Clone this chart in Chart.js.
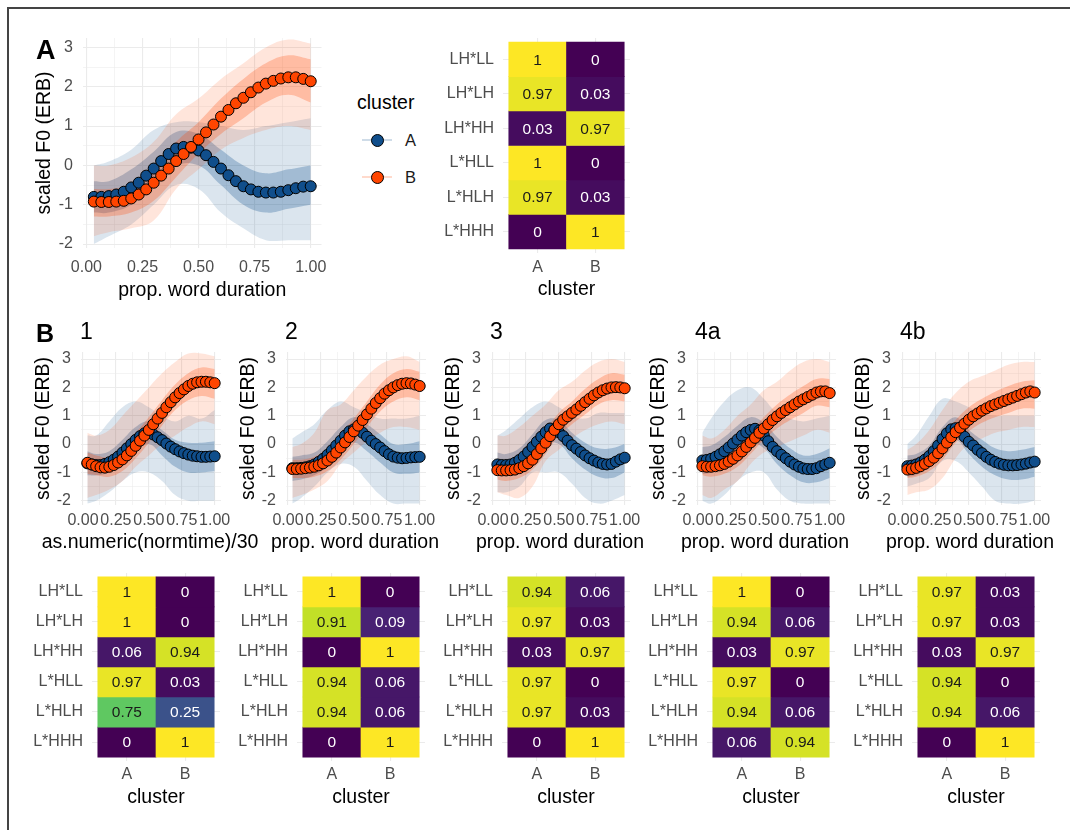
<!DOCTYPE html>
<html lang="en">
<head>
<meta charset="UTF-8">
<title>F0 contours by cluster</title>
<script src="https://cdn.jsdelivr.net/npm/chart.js"></script>
<style>
  body { margin: 0; background: #fff; font-family: "Liberation Sans", Arial, sans-serif; }
  #fig { position: relative; width: 1070px; height: 830px; overflow: hidden; background: #fff; }
  #frame { position: absolute; left: 7px; top: 7px; width: 1100px; height: 900px;
           border-top: 2px solid #444; border-left: 2px solid #444; }
  canvas { position: absolute; }
  .lbl { position: absolute; line-height: 1; white-space: nowrap; color: #000; z-index: 2; }
  .xt { position: absolute; line-height: 1; white-space: nowrap; color: #000; z-index: 2;
        font-size: 19.5px; transform: translateX(-50%); top: 532px; }
  .key-line { position: absolute; height: 2px; width: 30px; z-index: 2; }
  .key-dot { position: absolute; width: 11px; height: 11px; border: 1px solid #000; border-radius: 50%; z-index: 3; }
</style>
</head>
<body>
<div id="fig">
  <div id="frame"></div>

  <!-- panel letters and titles -->
  <div class="lbl" style="left:36px; top:37px; font-size:27px; font-weight:bold;">A</div>
  <div class="lbl" style="left:36px; top:321px; font-size:25px; font-weight:bold;">B</div>
  <div class="lbl" style="left:80px; top:320px; font-size:23px;">1</div>
  <div class="lbl" style="left:285px; top:320px; font-size:23px;">2</div>
  <div class="lbl" style="left:490px; top:320px; font-size:23px;">3</div>
  <div class="lbl" style="left:695px; top:320px; font-size:23px;">4a</div>
  <div class="lbl" style="left:900px; top:320px; font-size:23px;">4b</div>

  <!-- x titles of the B curve panels (wider than their plots) -->
  <div class="xt" style="left:150px;">as.numeric(normtime)/30</div>
  <div class="xt" style="left:355px;">prop. word duration</div>
  <div class="xt" style="left:560px;">prop. word duration</div>
  <div class="xt" style="left:765px;">prop. word duration</div>
  <div class="xt" style="left:970px;">prop. word duration</div>

  <!-- legend -->
  <div class="lbl" style="left:357px; top:93px; font-size:19.5px;">cluster</div>
  <div class="key-line" style="left:362px; top:139px; background:rgba(16,78,139,0.2);"></div>
  <div class="key-dot" style="left:371px; top:134px; background:#104E8B;"></div>
  <div class="lbl" style="left:405px; top:132px; font-size:16.5px; color:#1a1a1a;">A</div>
  <div class="key-line" style="left:362px; top:176px; background:rgba(255,69,0,0.2);"></div>
  <div class="key-dot" style="left:371px; top:171px; background:#FF4500;"></div>
  <div class="lbl" style="left:405px; top:169px; font-size:16.5px; color:#1a1a1a;">B</div>
</div>

<script>
// ---- data ----
const normtime = [1,2,3,4,5,6,7,8,9,10,11,12,13,14,15,16,17,18,19,20,21,22,23,24,25,26,27,28,29,30];
const bandX = [0.033,0.1,0.2,0.3,0.4,0.5,0.6,0.7,0.8,0.9,1.0];
const xTickVals = [0, 0.25, 0.5, 0.75, 1];
const xTickText = ['0.00','0.25','0.50','0.75','1.00'];
const xMinor = [0.125, 0.375, 0.625, 0.875];
const yTickVals = [-2,-1,0,1,2,3];
const yMinor = [-1.5,-0.5,0.5,1.5,2.5];
const clusters = ['A','B'];
const accents = ['LH*LL','LH*LH','LH*HH','L*HLL','L*HLH','L*HHH'];

// panel A: mean contours
const a_meanA = [-0.80,-0.80,-0.78,-0.74,-0.67,-0.56,-0.44,-0.26,-0.08,0.11,0.29,0.43,0.47,0.45,0.38,0.26,0.09,-0.08,-0.25,-0.40,-0.53,-0.61,-0.67,-0.69,-0.69,-0.67,-0.63,-0.58,-0.54,-0.53];
const a_meanB = [-0.92,-0.93,-0.93,-0.92,-0.90,-0.84,-0.74,-0.61,-0.44,-0.26,-0.08,0.11,0.29,0.47,0.66,0.84,1.04,1.24,1.41,1.58,1.72,1.86,1.98,2.08,2.15,2.21,2.24,2.24,2.20,2.14];
// panel A: spread of individual contours (outer range, dense core)
const a_rangeA_lo = [-2.0,-1.8,-1.5,-1.0,-0.5,-0.6,-1.2,-1.6,-1.9,-1.9,-1.9];
const a_rangeA_hi = [0.0,0.1,0.4,0.9,1.1,1.1,1.0,0.9,1.0,1.1,1.2];
const a_coreA_lo = [-1.2,-1.2,-1.0,-0.5,0.0,0.0,-0.5,-1.0,-1.2,-1.1,-1.0];
const a_coreA_hi = [-0.4,-0.4,-0.1,0.35,0.85,0.8,0.4,0.0,-0.2,-0.1,0.0];
const a_rangeB_lo = [-1.8,-1.7,-1.6,-1.4,-0.6,-0.1,0.4,0.7,0.9,1.0,0.9];
const a_rangeB_hi = [0.0,0.0,0.2,0.6,1.3,1.7,2.2,2.6,3.0,3.2,3.1];
const a_coreB_lo = [-1.3,-1.3,-1.2,-0.9,-0.3,0.3,0.8,1.2,1.6,1.8,1.6];
const a_coreB_hi = [-0.6,-0.6,-0.5,-0.1,0.6,1.1,1.7,2.2,2.6,2.8,2.7];

// panel B1
const b1_meanA = [-0.68,-0.72,-0.74,-0.74,-0.70,-0.64,-0.55,-0.44,-0.30,-0.15,0.00,0.15,0.28,0.38,0.40,0.34,0.24,0.14,0.02,-0.09,-0.18,-0.26,-0.32,-0.37,-0.41,-0.43,-0.45,-0.45,-0.44,-0.43];
const b1_meanB = [-0.66,-0.72,-0.78,-0.82,-0.83,-0.80,-0.74,-0.65,-0.54,-0.40,-0.24,-0.06,0.12,0.30,0.50,0.70,0.90,1.10,1.30,1.48,1.65,1.80,1.93,2.05,2.13,2.18,2.20,2.20,2.18,2.15];
const b1_rangeA_lo = [-2.1,-2.0,-1.7,-1.3,-1.0,-1.0,-1.3,-1.8,-2.0,-2.0,-2.0];
const b1_rangeA_hi = [0.3,0.3,0.8,1.3,1.5,1.3,1.0,0.8,1.0,0.9,1.2];
const b1_coreA_lo = [-1.1,-1.1,-1.0,-0.7,-0.25,0.0,-0.4,-0.8,-1.0,-1.0,-0.95];
const b1_coreA_hi = [-0.25,-0.35,-0.25,0.15,0.6,0.8,0.5,0.15,0.05,0.05,0.1];
const b1_rangeB_lo = [-1.9,-1.8,-1.6,-1.3,-0.8,-0.4,0.0,0.3,0.6,0.8,0.7];
const b1_rangeB_hi = [0.4,0.3,0.5,1.0,1.5,2.0,2.5,2.9,3.2,3.2,3.1];
const b1_coreB_lo = [-1.05,-1.1,-1.15,-0.95,-0.5,0.05,0.65,1.2,1.55,1.7,1.6];
const b1_coreB_hi = [-0.3,-0.4,-0.45,-0.1,0.4,0.95,1.55,2.1,2.5,2.7,2.65];

// panel B2
const b2_meanA = [-0.85,-0.85,-0.84,-0.82,-0.78,-0.72,-0.63,-0.52,-0.38,-0.22,-0.05,0.12,0.30,0.45,0.52,0.50,0.40,0.26,0.12,0.00,-0.12,-0.25,-0.36,-0.44,-0.48,-0.50,-0.49,-0.47,-0.46,-0.45];
const b2_meanB = [-0.88,-0.88,-0.87,-0.85,-0.83,-0.80,-0.75,-0.68,-0.58,-0.45,-0.30,-0.12,0.06,0.25,0.45,0.65,0.85,1.05,1.25,1.45,1.62,1.78,1.90,2.00,2.08,2.13,2.15,2.14,2.10,2.05];
const b2_rangeA_lo = [-2.1,-1.9,-1.5,-1.0,-0.7,-0.8,-1.3,-1.8,-2.1,-2.1,-2.1];
const b2_rangeA_hi = [0.2,0.4,0.7,1.2,1.5,1.3,1.1,0.9,0.9,0.9,1.0];
const b2_coreA_lo = [-1.3,-1.25,-1.1,-0.8,-0.3,0.05,-0.25,-0.65,-1.0,-1.05,-1.0];
const b2_coreA_hi = [-0.45,-0.4,-0.3,0.1,0.6,0.95,0.7,0.35,0.0,0.0,0.1];
const b2_rangeB_lo = [-1.9,-1.8,-1.6,-1.3,-0.7,-0.3,0.1,0.4,0.6,0.6,0.5];
const b2_rangeB_hi = [-0.1,0.0,0.4,1.2,1.4,1.9,2.4,2.8,3.0,3.1,2.9];
const b2_coreB_lo = [-1.2,-1.2,-1.15,-0.95,-0.55,0.0,0.6,1.15,1.5,1.65,1.55];
const b2_coreB_hi = [-0.55,-0.55,-0.45,-0.15,0.35,0.9,1.5,2.1,2.5,2.65,2.55];

// panel B3
const b3_meanA = [-0.72,-0.74,-0.74,-0.72,-0.66,-0.56,-0.44,-0.28,-0.10,0.08,0.26,0.42,0.55,0.50,0.42,0.28,0.12,-0.04,-0.16,-0.28,-0.40,-0.50,-0.58,-0.65,-0.70,-0.72,-0.70,-0.62,-0.54,-0.48];
const b3_meanB = [-0.92,-0.93,-0.93,-0.92,-0.90,-0.85,-0.78,-0.68,-0.55,-0.35,-0.15,0.05,0.28,0.50,0.70,0.86,0.98,1.10,1.22,1.35,1.48,1.60,1.72,1.82,1.90,1.96,2.00,2.01,2.00,1.97];
const b3_rangeA_lo = [-1.7,-1.7,-1.5,-1.0,-1.0,-1.0,-1.4,-1.9,-2.1,-2.0,-1.8];
const b3_rangeA_hi = [0.3,0.5,0.9,1.3,1.5,1.3,1.0,0.9,1.1,1.1,1.1];
const b3_coreA_lo = [-1.1,-1.1,-0.95,-0.5,0.0,0.0,-0.5,-0.9,-1.15,-1.2,-1.0];
const b3_coreA_hi = [-0.3,-0.35,-0.15,0.35,0.85,0.85,0.4,0.05,-0.15,-0.15,0.0];
const b3_rangeB_lo = [-1.7,-1.8,-1.9,-1.5,-0.6,-0.2,0.2,0.5,0.7,0.8,0.7];
const b3_rangeB_hi = [0.3,0.3,0.6,1.0,1.4,1.9,2.2,2.6,2.9,3.0,2.9];
const b3_coreB_lo = [-1.25,-1.3,-1.2,-0.9,-0.35,0.3,0.7,1.05,1.4,1.55,1.5];
const b3_coreB_hi = [-0.6,-0.6,-0.45,-0.1,0.5,1.1,1.5,1.95,2.3,2.5,2.45];

// panel B4a
const b4a_meanA = [-0.58,-0.56,-0.52,-0.45,-0.36,-0.25,-0.12,0.02,0.16,0.30,0.42,0.50,0.54,0.48,0.30,0.10,-0.10,-0.25,-0.38,-0.50,-0.62,-0.72,-0.80,-0.86,-0.88,-0.88,-0.85,-0.78,-0.72,-0.66];
const b4a_meanB = [-0.78,-0.80,-0.80,-0.78,-0.75,-0.70,-0.62,-0.52,-0.40,-0.26,-0.10,0.06,0.22,0.40,0.55,0.70,0.85,0.98,1.10,1.20,1.30,1.40,1.50,1.58,1.66,1.74,1.82,1.86,1.86,1.80];
const b4a_rangeA_lo = [-2.0,-2.1,-1.8,-1.3,-1.0,-1.0,-1.6,-2.0,-2.1,-2.1,-2.1];
const b4a_rangeA_hi = [0.4,0.9,1.5,1.9,2.0,1.6,1.1,0.9,0.8,0.9,1.0];
const b4a_coreA_lo = [-1.05,-1.0,-0.7,-0.3,0.05,-0.15,-0.7,-1.1,-1.35,-1.35,-1.2];
const b4a_coreA_hi = [-0.1,-0.05,0.25,0.65,0.95,0.75,0.25,-0.15,-0.4,-0.35,-0.15];
const b4a_rangeB_lo = [-1.8,-1.9,-1.6,-1.3,-0.7,-0.3,-0.1,0.1,0.3,0.5,0.4];
const b4a_rangeB_hi = [0.3,0.2,0.5,1.0,1.4,1.9,2.2,2.6,2.9,3.0,2.9];
const b4a_coreB_lo = [-1.1,-1.15,-1.05,-0.8,-0.35,0.15,0.55,0.85,1.1,1.35,1.3];
const b4a_coreB_hi = [-0.45,-0.45,-0.35,0.0,0.45,0.95,1.4,1.75,2.05,2.3,2.3];

// panel B4b
const b4b_meanA = [-0.78,-0.76,-0.72,-0.65,-0.55,-0.42,-0.25,-0.05,0.18,0.38,0.52,0.56,0.45,0.26,0.08,-0.05,-0.20,-0.32,-0.45,-0.55,-0.63,-0.69,-0.73,-0.75,-0.75,-0.74,-0.72,-0.69,-0.65,-0.62];
const b4b_meanB = [-0.90,-0.88,-0.84,-0.78,-0.70,-0.60,-0.48,-0.32,-0.15,0.05,0.24,0.42,0.58,0.72,0.86,0.98,1.08,1.18,1.26,1.34,1.40,1.46,1.52,1.58,1.64,1.70,1.76,1.82,1.86,1.82];
const b4b_rangeA_lo = [-1.5,-1.4,-1.2,-0.6,-0.6,-1.0,-1.5,-2.0,-2.1,-2.1,-2.0];
const b4b_rangeA_hi = [0.0,0.3,1.0,1.6,1.5,1.3,1.1,1.0,1.0,1.0,1.0];
const b4b_coreA_lo = [-1.15,-1.1,-0.8,-0.2,0.15,-0.35,-0.8,-1.1,-1.25,-1.25,-1.15];
const b4b_coreA_hi = [-0.4,-0.35,-0.05,0.6,0.95,0.5,0.15,-0.15,-0.25,-0.2,-0.1];
const b4b_rangeB_lo = [-1.8,-1.7,-1.6,-1.2,-0.5,0.0,0.2,0.4,0.5,0.6,0.6];
const b4b_rangeB_hi = [-0.2,0.0,0.5,1.2,1.8,2.2,2.4,2.6,2.8,2.9,2.9];
const b4b_coreB_lo = [-1.2,-1.15,-0.95,-0.55,0.05,0.45,0.75,0.95,1.1,1.25,1.25];
const b4b_coreB_hi = [-0.6,-0.5,-0.2,0.3,0.85,1.3,1.6,1.85,2.05,2.2,2.25];

// confusion tables: share of each accent in cluster A / B (rows as in `accents`)
const a_propA   = [1, 0.97, 0.03, 1, 0.97, 0];
const a_propB   = [0, 0.03, 0.97, 0, 0.03, 1];
const b1_propA  = [1, 1, 0.06, 0.97, 0.75, 0];
const b1_propB  = [0, 0, 0.94, 0.03, 0.25, 1];
const b2_propA  = [1, 0.91, 0, 0.94, 0.94, 0];
const b2_propB  = [0, 0.09, 1, 0.06, 0.06, 1];
const b3_propA  = [0.94, 0.97, 0.03, 0.97, 0.97, 0];
const b3_propB  = [0.06, 0.03, 0.97, 0, 0.03, 1];
const b4a_propA = [1, 0.94, 0.03, 0.97, 0.94, 0.06];
const b4a_propB = [0, 0.06, 0.97, 0, 0.06, 0.94];
const b4b_propA = [0.97, 0.97, 0.03, 0.94, 0.94, 0];
const b4b_propB = [0.03, 0.03, 0.97, 0, 0.06, 1];

// ---- drawing ----
const FONT = '"Liberation Sans", Arial, sans-serif';
const BLUE = '#104E8B', ORANGE = '#FF4500';
Chart.defaults.font.family = FONT;

const VIR = ['#440154','#482576','#414487','#35608D','#2A788E','#21908C','#22A884','#43BF71','#7AD151','#BBDF27','#FDE725'];
function viridis(t) {
  const p = Math.max(0, Math.min(1, t)) * 10;
  const i = Math.min(9, Math.floor(p)), f = p - i;
  const c0 = VIR[i], c1 = VIR[i + 1];
  const ch = k => {
    const a = parseInt(c0.substr(1 + 2 * k, 2), 16), b = parseInt(c1.substr(1 + 2 * k, 2), 16);
    return Math.round(a + (b - a) * f);
  };
  return `rgb(${ch(0)},${ch(1)},${ch(2)})`;
}

const fig = document.getElementById('fig');
function makeCtx(left, top, w, h) {
  const c = document.createElement('canvas');
  c.width = w; c.height = h;
  c.style.left = left + 'px'; c.style.top = top + 'px';
  fig.appendChild(c);
  return c.getContext('2d');
}

function band(lo, hi, color) {
  return [
    { data: bandX.map((x, i) => ({ x, y: lo[i] })), borderWidth: 0, borderColor: 'transparent', pointRadius: 0, tension: 0.4, fill: false },
    { data: bandX.map((x, i) => ({ x, y: hi[i] })), borderWidth: 0, borderColor: 'transparent', pointRadius: 0, tension: 0.4, fill: '-1', backgroundColor: color }
  ];
}

function meanPoints(vals, color) {
  return {
    data: normtime.map((n, i) => ({ x: n / 30, y: vals[i] })),
    showLine: false, pointRadius: 5.5, pointBackgroundColor: color,
    pointBorderColor: '#000', pointBorderWidth: 1
  };
}

const gridWidth = (major) => c => (c.tick && major.includes(c.tick.value)) ? 1.1 : 0.55;

function curveChart(g, sets, xTitle) {
  const ds = [
    ...band(sets.rangeA[0], sets.rangeA[1], 'rgba(16,78,139,0.15)'),
    ...band(sets.coreA[0], sets.coreA[1], 'rgba(16,78,139,0.28)'),
    ...band(sets.rangeB[0], sets.rangeB[1], 'rgba(255,69,0,0.14)'),
    ...band(sets.coreB[0], sets.coreB[1], 'rgba(255,69,0,0.26)'),
    meanPoints(sets.meanA, BLUE),
    meanPoints(sets.meanB, ORANGE)
  ];
  ds.forEach((d, i) => { d.order = ds.length - i; });
  new Chart(makeCtx(g.left, g.top, g.w, g.h), {
    type: 'line',
    data: { datasets: ds },
    options: {
      responsive: false, animation: false, events: [],
      layout: { padding: { top: g.padTop, left: 0, right: g.padRight, bottom: 0 } },
      plugins: { legend: { display: false }, tooltip: { enabled: false } },
      scales: {
        x: {
          type: 'linear', min: -0.015, max: 1.048,
          afterBuildTicks: s => { s.ticks = [...xTickVals, ...xMinor].sort((a, b) => a - b).map(v => ({ value: v })); },
          afterFit: s => { s.height = g.xH; s.paddingLeft = 0; s.paddingRight = 0; },
          ticks: { autoSkip: false, maxRotation: 0, padding: g.xTickPad, color: '#4d4d4d', font: { size: 16 },
                   callback: v => { const i = xTickVals.indexOf(v); return i < 0 ? '' : xTickText[i]; } },
          grid: { color: '#ebebeb', lineWidth: gridWidth(xTickVals), drawTicks: false },
          border: { display: false },
          title: { display: !!xTitle, text: xTitle || '', color: '#000', font: { size: 19.5 }, padding: { top: 0, bottom: 0 } }
        },
        y: {
          type: 'linear', min: g.yMin, max: g.yMax,
          afterBuildTicks: s => { s.ticks = [...yTickVals, ...yMinor].sort((a, b) => a - b).map(v => ({ value: v })); },
          afterFit: s => { s.width = g.yW; s.paddingTop = 0; s.paddingBottom = 0; },
          ticks: { autoSkip: false, padding: g.yTickPad, color: '#4d4d4d', font: { size: 16 },
                   callback: v => yTickVals.includes(v) ? String(v) : '' },
          grid: { color: '#ebebeb', lineWidth: gridWidth(yTickVals), drawTicks: false },
          border: { display: false },
          title: { display: true, text: 'scaled F0 (ERB)', color: '#000', font: { size: 19.5 }, padding: { top: g.yTitlePad, bottom: 0 } }
        }
      }
    }
  });
}

const cellText = {
  id: 'cellText',
  afterDatasetsDraw(chart) {
    const c = chart.ctx;
    c.save();
    c.font = '15.5px ' + FONT;
    c.textAlign = 'center';
    c.textBaseline = 'middle';
    chart.data.datasets.forEach((ds, i) => {
      chart.getDatasetMeta(i).data.forEach((bar, j) => {
        const v = ds.vals[j];
        c.fillStyle = v > 0.5 ? '#1a1a1a' : '#ffffff';
        c.fillText(String(v), bar.x, (bar.y + bar.base) / 2 + 1);
      });
    });
    c.restore();
  }
};

function tileChart(g, propA, propB) {
  const n = accents.length;
  const datasets = accents.map((name, i) => {
    const r = n - 1 - i;
    return {
      data: [{ x: 0, y: [r, r + 1] }, { x: 1, y: [r, r + 1] }],
      vals: [propA[i], propB[i]],
      backgroundColor: [viridis(propA[i]), viridis(propB[i])],
      borderWidth: 0, stack: 'cells', barThickness: g.cell
    };
  });
  new Chart(makeCtx(g.left, g.top, g.w, g.h), {
    type: 'bar',
    data: { datasets },
    options: {
      responsive: false, animation: false, events: [],
      layout: { padding: { top: g.padTop, left: 0, right: 0, bottom: 0 } },
      plugins: { legend: { display: false }, tooltip: { enabled: false } },
      scales: {
        x: {
          type: 'linear', min: -0.6, max: 1.6, offset: false,
          afterBuildTicks: s => { s.ticks = [{ value: 0 }, { value: 1 }]; },
          afterFit: s => { s.height = g.xH; s.paddingLeft = 0; s.paddingRight = 0; },
          ticks: { autoSkip: false, maxRotation: 0, padding: g.xTickPad, color: '#4d4d4d', font: { size: 16 },
                   callback: v => clusters[v] },
          grid: { color: '#ebebeb', lineWidth: 1.1, drawTicks: false, offset: false },
          border: { display: false },
          title: { display: true, text: 'cluster', color: '#000', font: { size: 19.5 }, padding: { top: 0, bottom: 0 } }
        },
        y: {
          type: 'linear', min: g.yMin, max: g.yMax, stacked: false,
          afterBuildTicks: s => { s.ticks = accents.map((a, i) => ({ value: i + 0.5 })); },
          afterFit: s => { s.width = g.yW; s.paddingTop = 0; s.paddingBottom = 0; },
          ticks: { autoSkip: false, padding: g.yTickPad, color: '#4d4d4d', font: { size: 16 },
                   callback: v => accents[Math.round(n - 0.5 - v)] },
          grid: { color: '#ebebeb', lineWidth: 1.1, drawTicks: false },
          border: { display: false }
        }
      }
    },
    plugins: [cellText]
  });
}

// panel A
curveChart({ left: 30, top: 30, w: 298, h: 272, padTop: 8, padRight: 0, yW: 53, xH: 54, yMin: -2.1, yMax: 3.24,
             yTitlePad: 3, yTickPad: 10, xTickPad: 10 },
  { meanA: a_meanA, meanB: a_meanB,
    rangeA: [a_rangeA_lo, a_rangeA_hi], coreA: [a_coreA_lo, a_coreA_hi],
    rangeB: [a_rangeB_lo, a_rangeB_hi], coreB: [a_coreB_lo, a_coreB_hi] },
  'prop. word duration');
tileChart({ left: 440, top: 30, w: 190, h: 271, padTop: 8, yW: 63, xH: 48, yMin: -0.12, yMax: 6.12,
            xTickPad: 5, yTickPad: 9, cell: 57.7 }, a_propA, a_propB);

// panel B
const bCurves = [
  { meanA: b1_meanA, meanB: b1_meanB, rangeA: [b1_rangeA_lo, b1_rangeA_hi], coreA: [b1_coreA_lo, b1_coreA_hi],
    rangeB: [b1_rangeB_lo, b1_rangeB_hi], coreB: [b1_coreB_lo, b1_coreB_hi] },
  { meanA: b2_meanA, meanB: b2_meanB, rangeA: [b2_rangeA_lo, b2_rangeA_hi], coreA: [b2_coreA_lo, b2_coreA_hi],
    rangeB: [b2_rangeB_lo, b2_rangeB_hi], coreB: [b2_coreB_lo, b2_coreB_hi] },
  { meanA: b3_meanA, meanB: b3_meanB, rangeA: [b3_rangeA_lo, b3_rangeA_hi], coreA: [b3_coreA_lo, b3_coreA_hi],
    rangeB: [b3_rangeB_lo, b3_rangeB_hi], coreB: [b3_coreB_lo, b3_coreB_hi] },
  { meanA: b4a_meanA, meanB: b4a_meanB, rangeA: [b4a_rangeA_lo, b4a_rangeA_hi], coreA: [b4a_coreA_lo, b4a_coreA_hi],
    rangeB: [b4a_rangeB_lo, b4a_rangeB_hi], coreB: [b4a_coreB_lo, b4a_coreB_hi] },
  { meanA: b4b_meanA, meanB: b4b_meanB, rangeA: [b4b_rangeA_lo, b4b_rangeA_hi], coreA: [b4b_coreA_lo, b4b_coreA_hi],
    rangeB: [b4b_rangeB_lo, b4b_rangeB_hi], coreB: [b4b_coreB_lo, b4b_coreB_hi] }
];
const bTiles = [[b1_propA, b1_propB], [b2_propA, b2_propB], [b3_propA, b3_propB], [b4a_propA, b4a_propB], [b4b_propA, b4b_propB]];

bCurves.forEach((sets, i) => {
  const left = 30 + 205 * i;
  // x titles for these panels are HTML text above (they are wider than the plots)
  curveChart({ left, top: 340, w: 205, h: 215, padTop: 12, padRight: 14, yW: 51, xH: 50, yMin: -2.15, yMax: 3.25,
               yTitlePad: 2, yTickPad: 10, xTickPad: 6 }, sets, null);
  tileChart({ left, top: 560, w: 190, h: 249, padTop: 13, yW: 62, xH: 48, yMin: -0.13, yMax: 6.13,
              xTickPad: 4, yTickPad: 9, cell: 58.2 }, bTiles[i][0], bTiles[i][1]);
});
</script>
</body>
</html>
